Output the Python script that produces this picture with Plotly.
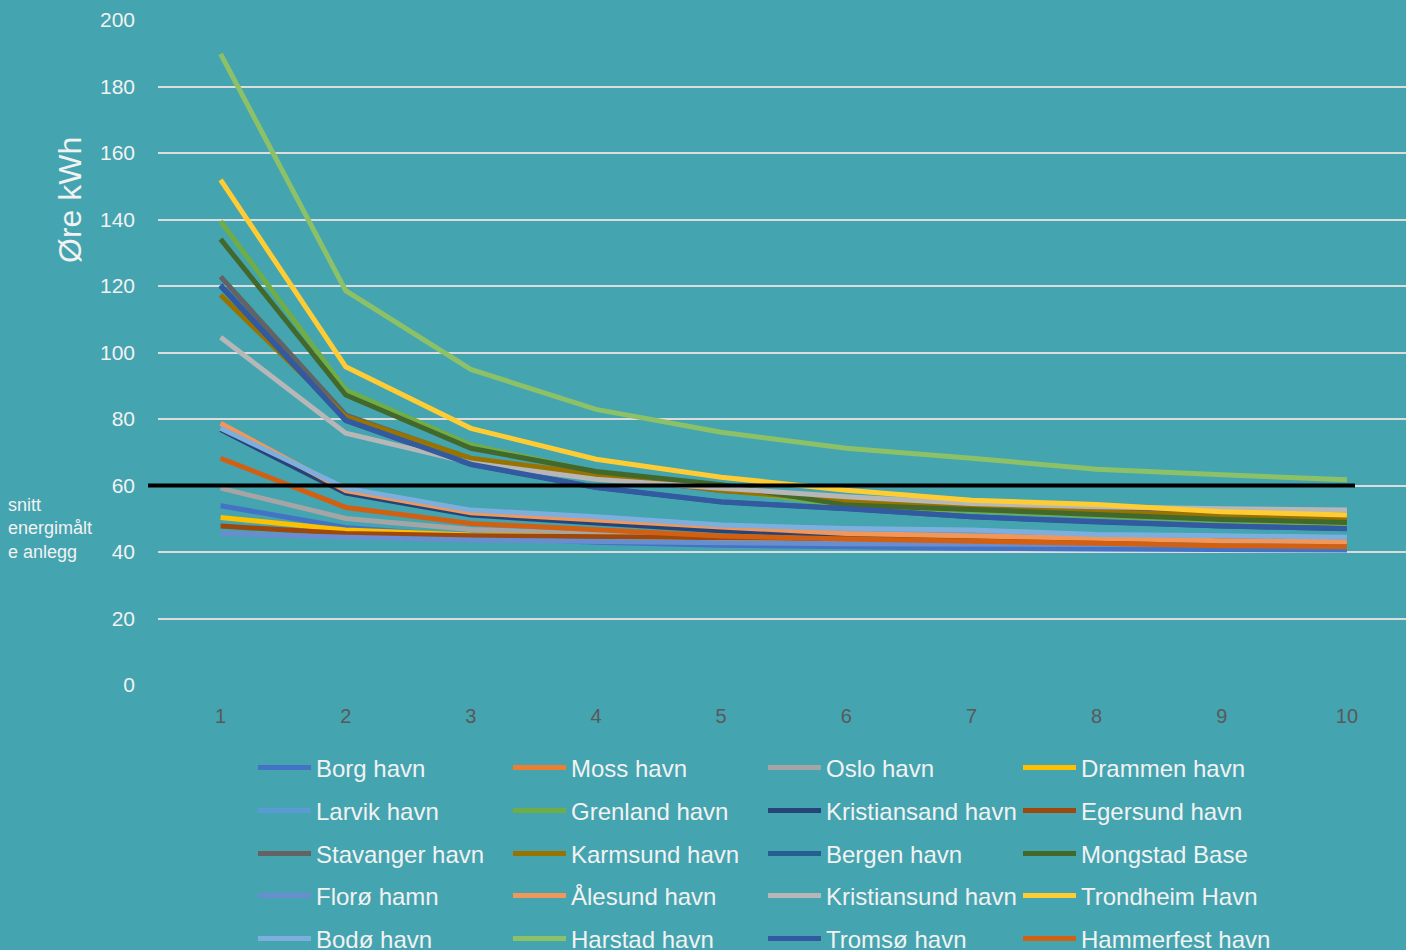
import plotly.graph_objects as go

# Antall år / periode langs x-aksen
perioder = [1, 2, 3, 4, 5, 6, 7, 8, 9, 10]

# Øre per kWh for hver havn
borg_havn = [53.9, 47.4, 44.6, 42.9, 42.0, 41.4, 41.1, 40.9, 40.8, 40.6]
moss_havn = [78.5, 58.3, 51.7, 49.4, 47.3, 45.4, 44.7, 43.7, 43.2, 42.9]
oslo_havn = [59.2, 50.1, 46.8, 45.5, 44.6, 44.0, 43.6, 43.3, 43.0, 42.8]
drammen_havn = [50.4, 46.6, 45.1, 44.4, 44.0, 43.6, 43.4, 43.2, 43.0, 42.9]
larvik_havn = [77.0, 59.0, 52.4, 50.4, 47.9, 46.9, 46.4, 45.1, 44.7, 44.2]
grenland_havn = [139.5, 88.7, 72.2, 64.0, 59.0, 53.8, 52.4, 51.0, 49.5, 48.5]
kristiansand_havn = [76.8, 57.7, 51.1, 48.8, 46.4, 45.1, 44.3, 43.7, 43.2, 42.8]
egersund_havn = [47.8, 45.6, 44.9, 44.5, 44.2, 44.0, 43.8, 43.7, 43.6, 43.5]
stavanger_havn = [122.8, 81.2, 68.0, 63.0, 58.5, 56.0, 54.0, 52.5, 51.4, 50.5]
karmsund_havn = [117.3, 80.7, 68.2, 63.2, 58.5, 55.5, 53.5, 52.0, 51.0, 50.0]
bergen_havn = [120.0, 79.5, 66.3, 59.4, 55.0, 53.0, 50.6, 49.0, 47.8, 47.0]
mongstad_base = [134.1, 87.2, 71.2, 64.2, 60.2, 54.1, 52.8, 51.4, 49.8, 48.9]
floro_hamn = [45.6, 44.4, 43.6, 43.1, 42.8, 42.5, 42.3, 42.2, 42.1, 42.0]
alesund_havn = [78.7, 58.5, 51.8, 49.6, 47.5, 45.6, 44.9, 43.9, 43.4, 43.1]
kristiansund_havn = [104.6, 75.7, 66.8, 61.9, 59.2, 56.6, 54.6, 53.6, 53.0, 52.6]
trondheim_havn = [151.9, 95.7, 77.2, 67.9, 62.5, 58.6, 55.6, 54.3, 52.1, 51.1]
bodo_havn = [77.2, 59.2, 52.6, 50.6, 48.1, 47.1, 46.6, 45.3, 44.9, 44.4]
harstad_havn = [189.8, 118.6, 94.9, 82.9, 76.0, 71.2, 68.2, 64.9, 63.2, 61.7]
tromso_havn = [120.3, 79.7, 66.4, 59.5, 55.1, 53.1, 50.6, 49.1, 47.8, 47.1]
hammerfest_havn = [68.2, 53.4, 48.6, 46.8, 44.8, 43.9, 43.1, 42.6, 41.9, 41.6]

# Snitt for energimålte anlegg
snitt_energimalt = 60

y_ticks = [0, 20, 40, 60, 80, 100, 120, 140, 160, 180, 200]

serier = [
    ("Borg havn", borg_havn, "#4472C4"),
    ("Moss havn", moss_havn, "#ED7D31"),
    ("Oslo havn", oslo_havn, "#A5A5A5"),
    ("Drammen havn", drammen_havn, "#FFC000"),
    ("Larvik havn", larvik_havn, "#5B9BD5"),
    ("Grenland havn", grenland_havn, "#70AD47"),
    ("Kristiansand havn", kristiansand_havn, "#264478"),
    ("Egersund havn", egersund_havn, "#9E480E"),
    ("Stavanger havn", stavanger_havn, "#636363"),
    ("Karmsund havn", karmsund_havn, "#997300"),
    ("Bergen havn", bergen_havn, "#255E91"),
    ("Mongstad Base", mongstad_base, "#43682B"),
    ("Florø hamn", floro_hamn, "#698ED0"),
    ("Ålesund havn", alesund_havn, "#F1975A"),
    ("Kristiansund havn", kristiansund_havn, "#B7B7B7"),
    ("Trondheim Havn", trondheim_havn, "#FFCD33"),
    ("Bodø havn", bodo_havn, "#7CAFDD"),
    ("Harstad havn", harstad_havn, "#8CC168"),
    ("Tromsø havn", tromso_havn, "#335AA1"),
    ("Hammerfest havn", hammerfest_havn, "#D26012"),
]

BG = "#44A4B0"
TXT = "#F2F2F2"
FONT = "Liberation Sans, Arial, sans-serif"

W, H = 1406, 950
ML, MR, MT, MB = 158, 0, 20, 265
plot_w = W - ML - MR
plot_h = H - MT - MB
x_range = [0.5, 10.472]
y_range = [0, 200]

fig = go.Figure()

legend_names = ["legend", "legend2", "legend3", "legend4", "legend5"]
for i, (navn, verdier, farge) in enumerate(serier):
    fig.add_trace(go.Scatter(
        x=perioder, y=verdier, name=navn, mode="lines",
        line=dict(color=farge, width=5),
        legend=legend_names[i // 4],
    ))

# Snittlinje (litt utenfor plottområdet til venstre)
snitt_paper = (snitt_energimalt - y_range[0]) / (y_range[1] - y_range[0])
fig.add_shape(
    type="line", xref="paper", yref="paper",
    x0=(148 - ML) / plot_w, x1=(1355 - ML) / plot_w,
    y0=snitt_paper, y1=snitt_paper,
    line=dict(color="black", width=4), layer="above",
)

# Tekstforklaring til snittlinjen
fig.add_annotation(
    text="snitt<br>energimålt<br>e anlegg",
    xref="paper", yref="paper",
    x=(6 - ML) / plot_w, y=(H - MB - 528) / plot_h,
    xanchor="left", yanchor="middle", align="left", showarrow=False,
    font=dict(family=FONT, size=18, color=TXT),
)

# Aksetittel
fig.add_annotation(
    text="Øre kWh", textangle=-90,
    xref="paper", yref="paper",
    x=(70 - ML) / plot_w, y=(H - MB - 200) / plot_h,
    xanchor="center", yanchor="middle", showarrow=False,
    font=dict(family=FONT, size=32, color=TXT),
)

row_centres = [768, 811, 854, 896, 939]
legend_layout = {}
for name, yc in zip(legend_names, row_centres):
    legend_layout[name] = dict(
        orientation="h",
        x=(253 - ML) / plot_w, xanchor="left",
        y=(H - MB - yc) / plot_h, yanchor="middle",
        bgcolor="rgba(0,0,0,0)",
        font=dict(family=FONT, size=24, color=TXT),
        entrywidth=187, entrywidthmode="pixels",
        itemwidth=53,
        itemclick=False, itemdoubleclick=False,
    )

fig.update_layout(
    width=W, height=H,
    margin=dict(l=ML, r=MR, t=MT, b=MB, pad=0, autoexpand=False),
    paper_bgcolor=BG, plot_bgcolor=BG,
    font=dict(family=FONT, color=TXT),
    showlegend=True,
    **legend_layout,
)

fig.update_xaxes(
    range=x_range, tickmode="array", tickvals=perioder,
    ticktext=[str(p) for p in perioder],
    showgrid=False, zeroline=False, showline=False,
    tickfont=dict(family=FONT, size=20, color="#595959"),
    ticks="", ticklabelstandoff=17,
)
fig.update_yaxes(
    range=y_range, tickmode="array", tickvals=y_ticks,
    showgrid=True, gridcolor="#DCDCDC", gridwidth=2,
    zeroline=False, showline=False,
    tickfont=dict(family=FONT, size=21, color=TXT),
    ticks="", ticklabelstandoff=22,
)

fig.write_html("out.html")
